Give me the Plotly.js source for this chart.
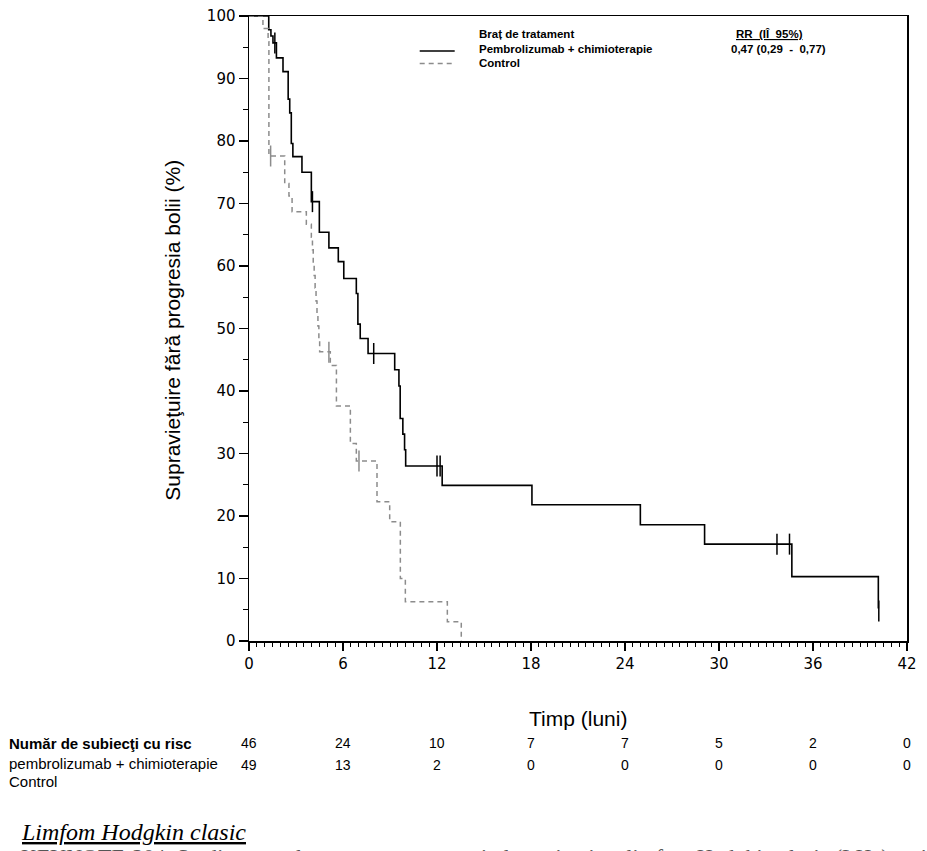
<!DOCTYPE html>
<html>
<head>
<meta charset="utf-8">
<script src="https://cdn.plot.ly/plotly-3.0.1.min.js"></script>
<style>
html,body{margin:0;padding:0;background:#fff;}
#chart{width:927px;height:851px;}
</style>
</head>
<body>
<div id="chart"></div>
<script>
// ---- Data ----
const pembroT = [0, 1.26, 1.40, 1.53, 1.75, 2.17, 2.50, 2.60, 2.70, 2.80, 3.38, 3.98, 4.49, 5.10, 5.70, 6.05, 6.85, 6.95, 7.10, 7.60, 9.30, 9.57, 9.65, 9.82, 9.93, 10.0, 12.33, 18.06, 24.98, 29.08, 34.65, 40.17];
const pembroS = [100, 97.8, 96.8, 95.7, 93.3, 91.1, 86.7, 84.5, 79.6, 77.5, 75.0, 70.3, 65.4, 62.9, 60.7, 58.0, 55.6, 50.7, 48.4, 46.0, 43.4, 40.8, 35.6, 33.1, 30.6, 28.0, 24.9, 21.8, 18.6, 15.5, 10.3, 5.2];
const pembroCensT = [1.65, 4.05, 7.96, 12.0, 12.2, 33.7, 34.5, 40.2];
const pembroCensS = [95.7, 70.3, 46.0, 28.0, 28.0, 15.5, 15.5, 4.8];

const controlT = [0, 0.89, 1.22, 1.27, 2.28, 2.55, 2.75, 3.66, 3.98, 4.05, 4.10, 4.16, 4.22, 4.28, 4.34, 4.40, 4.46, 4.51, 5.19, 5.58, 6.47, 6.85, 8.17, 8.98, 9.66, 9.98, 12.66, 13.55];
const controlS = [100, 98.0, 95.9, 77.6, 73.2, 71.2, 68.7, 66.7, 64.6, 62.6, 60.5, 58.5, 56.5, 54.4, 52.4, 50.4, 48.3, 46.3, 44.1, 37.6, 31.6, 28.8, 22.3, 19.1, 10.0, 6.3, 3.1, 0];
const controlCensT = [1.38, 5.10, 7.02];
const controlCensS = [77.6, 46.2, 28.8];

const riskTimes = [0, 6, 12, 18, 24, 30, 36, 42];
const riskPembro = [46, 24, 10, 7, 7, 5, 2, 0];
const riskControl = [49, 13, 2, 0, 0, 0, 0, 0];

const xTicks = [0, 6, 12, 18, 24, 30, 36, 42];
const yTicks = [0, 10, 20, 30, 40, 50, 60, 70, 80, 90, 100];

const armTitle = "Braț de tratament";
const armNames = ["Pembrolizumab + chimioterapie", "Control"];
const hrTitle = "RR\u00A0\u00A0(IÎ\u00A0\u00A095%)";
const hrValue = "0,47 (0,29\u00A0\u00A0-\u00A0\u00A00,77)";
const riskTitle = "Număr de subiecţi cu risc";
const riskLabels = ["pembrolizumab + chimioterapie", "Control"];
const yTitle = "Supravieţuire fără progresia bolii (%)";
const xTitle = "Timp (luni)";
const sectionTitle = "Limfom Hodgkin clasic";
const sectionText = "KEYNOTE-204: Studiu controlat cu comparator activ la pacienţi cu limfom Hodgkin clasic (LHc) recidivant";

// ---- Styles ----
const BLACK = "#000000";
const GRAY = "#8c8c8c";
const ARIAL = "Liberation Sans, Arial, sans-serif";
const TICKF = "DejaVu Sans, Verdana, sans-serif";
const SERIF = "Liberation Serif, Times New Roman, serif";

const traces = [
  {x: pembroT, y: pembroS, type: "scatter", mode: "lines", line: {shape: "hv", color: BLACK, width: 1.6}, cliponaxis: false, hoverinfo: "skip"},
  {x: controlT, y: controlS, type: "scatter", mode: "lines", line: {shape: "hv", color: GRAY, width: 1.5, dash: "5px,4px"}, cliponaxis: false, hoverinfo: "skip"},
  {x: pembroCensT, y: pembroCensS, type: "scatter", mode: "markers", marker: {symbol: "line-ns", size: 15, line: {color: BLACK, width: 1.5}}, cliponaxis: false, hoverinfo: "skip"},
  {x: controlCensT, y: controlCensS, type: "scatter", mode: "markers", marker: {symbol: "line-ns", size: 15, line: {color: GRAY, width: 1.5}}, cliponaxis: false, hoverinfo: "skip"}
];

// paper helpers (plot area: x 249.3..907.3, y 16..641)
const L = 249.3, W = 658, B = 641, H = 625;
const px = v => (v - L) / W;
const py = v => (B - v) / H;

const annotations = [];
function ann(text, x, y, opts) {
  annotations.push(Object.assign({text: text, x: x, y: y, xref: "paper", yref: "paper", showarrow: false, xanchor: "left", yanchor: "middle"}, opts || {}));
}
const legFont = {family: ARIAL, size: 11.5, color: BLACK};
// legend block
ann("<b>" + armTitle + "</b>", px(477), py(34), {font: legFont});
ann("<b>" + armNames[0] + "</b>", px(477), py(48.5), {font: legFont});
ann("<b>" + armNames[1] + "</b>", px(477), py(63), {font: legFont});
ann("<b><u>" + hrTitle + "</u></b>", px(734), py(34), {font: legFont});
ann("<b>" + hrValue + "</b>", px(729), py(48.5), {font: legFont});
// axis titles
ann(yTitle, px(172), py(330), {xanchor: "center", textangle: -90, font: {family: ARIAL, size: 21, color: BLACK}});
ann(xTitle, 0.5, py(718), {xanchor: "center", font: {family: ARIAL, size: 21, color: BLACK}});
// risk table
ann("<b>" + riskTitle + "</b>", px(7), py(743), {font: {family: ARIAL, size: 15, color: BLACK}});
ann(riskLabels[0], px(7), py(763), {font: {family: ARIAL, size: 15, color: BLACK}});
ann(riskLabels[1], px(7), py(781), {font: {family: ARIAL, size: 15, color: BLACK}});
riskTimes.forEach((t, i) => {
  annotations.push({text: String(riskPembro[i]), x: t, xref: "x", y: py(743), yref: "paper", showarrow: false, xanchor: "center", yanchor: "middle", font: {family: ARIAL, size: 14, color: BLACK}});
  annotations.push({text: String(riskControl[i]), x: t, xref: "x", y: py(765), yref: "paper", showarrow: false, xanchor: "center", yanchor: "middle", font: {family: ARIAL, size: 14, color: BLACK}});
});
// bottom text
ann("<i><u>" + sectionTitle + "</u></i>", px(19), py(832), {font: {family: SERIF, size: 24, color: BLACK}});
ann(sectionText, px(19), py(842), {yanchor: "top", font: {family: SERIF, size: 22, color: "#555555"}});

const shapes = [
  {type: "line", xref: "paper", yref: "paper", x0: px(420), x1: px(455), y0: py(51), y1: py(51), line: {color: BLACK, width: 1.6}},
  {type: "line", xref: "paper", yref: "paper", x0: px(420), x1: px(455), y0: py(63.5), y1: py(63.5), line: {color: GRAY, width: 1.4, dash: "5px,4px"}}
];

const layout = {
  width: 927, height: 851,
  margin: {l: 249, r: 20, t: 16, b: 210, pad: 0},
  paper_bgcolor: "#ffffff", plot_bgcolor: "#ffffff",
  showlegend: false,
  xaxis: {
    range: [0, 42], tickvals: xTicks, ticktext: xTicks.map(String),
    showgrid: false, zeroline: false, showline: true, linecolor: BLACK, linewidth: 1.5, mirror: true,
    ticks: "outside", ticklen: 8, tickwidth: 1.5, tickcolor: BLACK,
    tickfont: {family: TICKF, size: 15, color: BLACK},
    minor: {dtick: 0.5, tick0: 0, ticks: "outside", ticklen: 4, tickwidth: 1, tickcolor: BLACK, showgrid: false},
    fixedrange: true
  },
  yaxis: {
    range: [0, 100], tickvals: yTicks, ticktext: yTicks.map(String),
    showgrid: false, zeroline: false, showline: true, linecolor: BLACK, linewidth: 1.5, mirror: true,
    ticks: "outside", ticklen: 9, tickwidth: 1.5, tickcolor: BLACK,
    tickfont: {family: TICKF, size: 15, color: BLACK},
    minor: {dtick: 5, tick0: 0, ticks: "outside", ticklen: 4.5, tickwidth: 1, tickcolor: BLACK, showgrid: false},
    fixedrange: true
  },
  annotations: annotations,
  shapes: shapes
};

Plotly.newPlot("chart", traces, layout, {displayModeBar: false, staticPlot: true});
</script>
</body>
</html>
